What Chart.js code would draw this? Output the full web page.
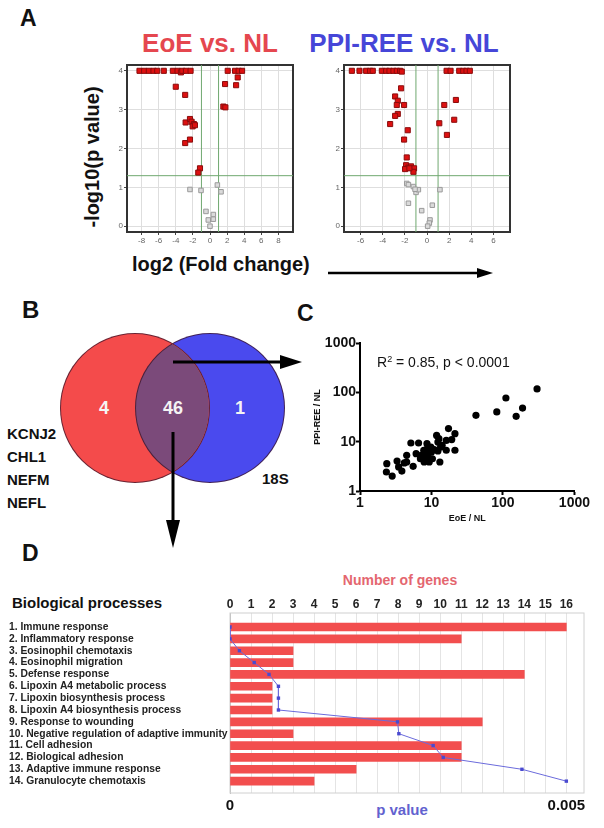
<!DOCTYPE html>
<html>
<head>
<meta charset="utf-8">
<script src="https://cdn.jsdelivr.net/npm/chart.js@4.4.1/dist/chart.umd.min.js"></script>
<style>
html, body { margin: 0; padding: 0; background: #fff; }
#fig { position: relative; width: 604px; height: 828px; overflow: hidden; font-family: "Liberation Sans", Arial, sans-serif; color: #111; }
#fig canvas { position: absolute; }
.t { position: absolute; font-weight: bold; line-height: 1; white-space: nowrap; transform: translateY(-50%); }
.c { transform: translate(-50%, -50%); }
.circ { position: absolute; border-radius: 50%; box-sizing: border-box; border: 1px solid rgba(60,20,40,.75); }
</style>
</head>
<body>
<div id="fig">
  <!-- panel A -->
  <div class="t" style="left:20px;top:18px;font-size:23px">A</div>
  <div class="t c" style="left:210px;top:43px;font-size:26px;color:#e5474f">EoE vs. NL</div>
  <div class="t c" style="left:404px;top:43px;font-size:26px;color:#4646d8">PPI-REE vs. NL</div>
  <div class="t" style="left:92px;top:157px;font-size:20px;transform:translate(-50%,-50%) rotate(-90deg)">-log10(p value)</div>
  <div class="t" style="left:132px;top:264px;font-size:20px">log2 (Fold change)</div>
  <canvas id="cA1" width="200" height="195" style="left:100px;top:55px"></canvas>
  <canvas id="cA2" width="200" height="195" style="left:317px;top:55px"></canvas>

  <!-- panel B -->
  <div class="t" style="left:22px;top:310px;font-size:24px">B</div>
  <div class="circ" style="left:135px;top:333px;width:150px;height:150px;background:#4a4aee"></div>
  <div class="circ" style="left:60px;top:333px;width:150px;height:150px;background:#f44b4b;overflow:hidden">
    <div class="circ" style="left:74px;top:-1px;width:150px;height:150px;background:#7b4a7a"></div>
  </div>
  <div class="t c" style="left:104px;top:408px;font-size:18px;color:#f4f4f4">4</div>
  <div class="t c" style="left:173px;top:408px;font-size:18px;color:#f4f4f4">46</div>
  <div class="t c" style="left:240px;top:408px;font-size:18px;color:#f4f4f4">1</div>
  <div class="t" style="left:7px;top:433px;font-size:15px">KCNJ2</div>
  <div class="t" style="left:7px;top:456px;font-size:15px">CHL1</div>
  <div class="t" style="left:7px;top:479px;font-size:15px">NEFM</div>
  <div class="t" style="left:7px;top:502px;font-size:15px">NEFL</div>
  <div class="t" style="left:262px;top:478px;font-size:15px">18S</div>

  <!-- panel C -->
  <div class="t" style="left:297px;top:313px;font-size:23px">C</div>
  <canvas id="cC" width="290" height="196" style="left:300px;top:333px"></canvas>
  <div class="t" style="left:377px;top:362px;font-size:14px;font-weight:normal">R<sup style="font-size:9px">2</sup> = 0.85, p &lt; 0.0001</div>

  <!-- panel D -->
  <div class="t" style="left:22px;top:553px;font-size:23px">D</div>
  <div class="t" style="left:12px;top:602px;font-size:15px">Biological processes</div>
  <div class="t c" style="left:400px;top:580px;font-size:14px;color:#e4666f">Number of genes</div>
  <div class="t c" style="left:402px;top:809px;font-size:15px;color:#6262cf">p value</div>
  <canvas id="cD" width="604" height="250" style="left:0px;top:570px"></canvas>

  <!-- arrows -->
  <svg width="604" height="828" style="position:absolute;left:0;top:0;pointer-events:none">
    <line x1="328" y1="273" x2="479" y2="273" stroke="#000" stroke-width="2.5"/>
    <polygon points="477,268 493,273 477,278" fill="#000"/>
    <line x1="173" y1="362" x2="282" y2="362" stroke="#000" stroke-width="3"/>
    <polygon points="280,355 302,362 280,369" fill="#000"/>
    <line x1="173" y1="432" x2="173" y2="522" stroke="#000" stroke-width="3"/>
    <polygon points="166,520 173,548 180,520" fill="#000"/>
  </svg>
</div>

<script>
/* ---- data ---- */
const FC_CUT = 1;      // |log2 FC| threshold
const P_CUT = 1.3;     // -log10(0.05)
const VOLC_Y_TICKS = [0, 1, 2, 3, 4];
const EOE_X_TICKS = [-8, -6, -4, -2, 0, 2, 4, 6, 8];
const PPI_X_TICKS = [-6, -4, -2, 0, 2, 4, 6];

// [log2 FC, -log10 p]
const EOE_SIG = [
  [-8.24,4],[-7.7,4],[-7.15,4],[-6.6,4],[-6.17,4],[-5.4,4],[-4.34,4],[-3.79,4],[-3.4,3.96],[-3.24,4],[-2.81,4],[-2.27,4],
  [2.07,4],[2.93,4],[3.35,4],[3.75,4],
  [-4.0,3.59],[-2.9,3.38],[1.76,3.66],[3.24,3.83],[3.05,3.63],[1.56,3.08],[1.8,3.06],
  [-2.85,2.67],[-2.34,2.76],[-2.15,2.69],[-1.88,2.63],[-2.03,2.57],[-1.76,2.6],
  [-2.9,2.14],[-2.34,2.23],[-1.17,1.49],[-1.37,1.38]
];
const EOE_NS = [
  [-2.34,0.945],[-1.05,0.92],[0.86,1.06],[1.29,0.885],[-0.47,0.38],[0.39,0.30],[-0.2,0.16],[0.39,0.18],[0,0]
];
const PPI_SIG = [
  [-6.79,4],[-6.1,4],[-5.5,4],[-5.14,4],[-4.9,4],[-4.08,4],[-3.69,4],[-3.39,4],[-3.03,4],[-2.73,4],[-2.43,4],[-2.28,3.98],
  [1.77,4],[2.13,4],[2.91,4],[3.27,4],[3.57,4],[3.87,4],
  [-2.34,3.55],[-2.88,3.34],[-2.64,3.23],[-2.73,3.12],[-2.07,3.12],[2.61,3.25],[1.56,3.12],
  [-2.64,2.89],[-2.88,2.84],[-3.33,2.63],[1.11,2.65],[2.46,2.74],[-1.74,2.47],[1.8,2.35],[-2.07,2.23],
  [-1.83,1.77],[-1.89,1.57],[-1.68,1.51],[-1.98,1.47],[-1.44,1.54],[-1.17,1.49],[-1.23,1.40],[-1.59,1.49]
];
const PPI_NS = [
  [-1.83,1.1],[-1.68,1.07],[-1.23,1.02],[-0.99,0.87],[-0.78,0.94],[-1.08,0.95],[1.17,0.94],
  [-1.68,0.59],[-0.48,0.40],[0.48,0.54],[0.27,0.16],[0.21,0.08],[0.06,0]
];

// [EoE / NL, PPI-REE / NL]
const RATIO = [
  [2.37,3.58],[2.34,2.43],[2.82,2.01],[3.3,4.06],[3.47,3.07],[3.85,2.54],[4.17,3.7],[4.5,5.28],[4.5,3.87],
  [5.15,9.4],[5.54,3.16],[6.6,9.4],[7.2,5.28],[7.8,6.67],[7.9,3.87],[8.65,9.1],[8.8,7.2],[8.4,5.5],
  [9.0,4.9],[9.3,3.87],[9.8,7.8],[10,6.2],[10.3,4.5],[10.9,6.9],[11.8,13.4],[12.3,9.8],[12.7,11.5],
  [13.4,7.8],[12.3,6.5],[13.1,3.87],[14.1,8.4],[16.1,10.6],[17.3,18.4],[16.1,6.7],[19.2,11.0],[21.3,14.5],
  [21.3,6.7],[6.1,5.7],[7.0,4.5],[8.1,4.7],
  [41.9,34.2],[82,40],[110,76.7],[153,32.6],[188,48],[300,117]
];
const LOG_TICKS = [1, 10, 100, 1000];

const ROW_LABELS = [
  '1. Immune response', '2. Inflammatory response', '3. Eosinophil chemotaxis', '4. Eosinophil migration',
  '5. Defense response', '6. Lipoxin A4 metabolic process', '7. Lipoxin biosynthesis process',
  '8. Lipoxin A4 biosynthesis process', '9. Response to wounding', '10. Negative regulation of adaptive immunity',
  '11. Cell adhesion', '12. Biological adhesion', '13. Adaptive immune response', '14. Granulocyte chemotaxis'
];
const GENES = [16, 11, 3, 3, 14, 2, 2, 2, 12, 3, 11, 11, 6, 4];
const PVALS = [0, 0, 0.00014, 0.00036, 0.00058, 0.00072, 0.00072, 0.00072, 0.00249, 0.00251, 0.00302, 0.00317, 0.00434, 0.005];
const GENE_TICKS = [0,1,2,3,4,5,6,7,8,9,10,11,12,13,14,15,16];
const P_TICKS = [0, 0.005];
const GENE_MAX = 16.84;
const P_MAX = 0.005 * GENE_MAX / 16;

/* ---- setup ---- */
Chart.defaults.font.family = '"Liberation Sans", Arial, sans-serif';
Chart.defaults.animation = false;
Chart.defaults.responsive = false;
Chart.defaults.devicePixelRatio = 1;
Chart.defaults.plugins.legend.display = false;
Chart.defaults.plugins.tooltip.enabled = false;

// box round the plot area
Chart.register({
  id: 'frame',
  beforeDatasetsDraw(chart, args, opts) {
    if (!opts || !opts.color) return;
    const { ctx, chartArea: a } = chart;
    ctx.save();
    ctx.strokeStyle = opts.color;
    ctx.lineWidth = opts.width || 1;
    ctx.strokeRect(a.left, a.top, a.right - a.left, a.bottom - a.top);
    ctx.restore();
  }
});

const fixW = (w) => (s) => { s.width = w; };
const fixH = (h) => (s) => { s.height = h; };
const setTicks = (arr) => (s) => { s.ticks = arr.map(v => ({ value: v })); };
const pts = (arr) => arr.map(([x, y]) => ({ x, y }));

function volcano(id, sig, ns, xr, xticks) {
  const yMin = -0.15, yMax = 4.15;
  const guide = (data) => ({ data, showLine: true, pointRadius: 0, borderColor: '#70a870', borderWidth: 1 });
  const small = { font: { size: 8 }, color: '#666', autoSkip: false, maxRotation: 0, callback: v => String(v) };
  new Chart(document.getElementById(id), {
    type: 'scatter',
    data: {
      datasets: [
        { data: pts(sig), pointStyle: 'rect', pointRadius: 3.6, backgroundColor: '#dd1010', borderColor: '#8a0c0c', borderWidth: 1 },
        { data: pts(ns), pointStyle: 'rect', pointRadius: 3.2, backgroundColor: '#dadada', borderColor: '#9a9a9a', borderWidth: 1 },
        guide([{ x: -FC_CUT, y: yMin }, { x: -FC_CUT, y: yMax }]),
        guide([{ x: FC_CUT, y: yMin }, { x: FC_CUT, y: yMax }]),
        guide([{ x: -xr, y: P_CUT }, { x: xr, y: P_CUT }])
      ]
    },
    options: {
      layout: { padding: { top: 10, right: 7, left: 0, bottom: 0 } },
      scales: {
        x: {
          min: -xr, max: xr, afterFit: fixH(18), afterBuildTicks: setTicks(xticks),
          ticks: { ...small, padding: 1 },
          grid: { color: '#dedede', tickColor: '#444', tickLength: 3 },
          border: { color: '#333', width: 2 }
        },
        y: {
          min: yMin, max: yMax, afterFit: fixW(27), afterBuildTicks: setTicks(VOLC_Y_TICKS),
          ticks: { ...small, padding: 1 },
          grid: { color: '#dedede', tickColor: '#444', tickLength: 3 },
          border: { color: '#333', width: 2 }
        }
      },
      plugins: { frame: { color: '#333', width: 2 } }
    }
  });
}

volcano('cA1', EOE_SIG, EOE_NS, 9.7, EOE_X_TICKS);
volcano('cA2', PPI_SIG, PPI_NS, 7.5, PPI_X_TICKS);

// C: correlation of fold changes
const logAxis = (title, pad) => ({
  type: 'logarithmic', min: 1, max: 1000,
  afterBuildTicks: setTicks(LOG_TICKS),
  ticks: { font: { size: 14, weight: 'bold' }, color: '#111', padding: 0, autoSkip: false, maxRotation: 0, callback: v => String(v) },
  grid: { drawOnChartArea: false, tickColor: '#000', tickLength: 4, tickWidth: 2 },
  border: { color: '#000', width: 2 },
  title: { display: true, text: title, font: { size: 9, weight: 'bold' }, color: '#111', padding: pad }
});
new Chart(document.getElementById('cC'), {
  type: 'scatter',
  data: { datasets: [{ data: pts(RATIO), pointRadius: 3.6, backgroundColor: '#000', borderWidth: 0 }] },
  options: {
    layout: { padding: { top: 10, right: 8, left: 0, bottom: 0 } },
    scales: {
      x: { ...logAxis('EoE / NL', { top: 0, bottom: 5 }), afterFit: fixH(38) },
      y: { ...logAxis('PPI-REE / NL', { top: 12, bottom: 0 }), afterFit: fixW(60) }
    }
  }
});

// D: enriched biological processes
const ROWS = ROW_LABELS.map((_, i) => i);
new Chart(document.getElementById('cD'), {
  type: 'bar',
  data: {
    datasets: [
      { type: 'line', data: PVALS.map((p, i) => ({ x: p, y: i })), xAxisID: 'p', yAxisID: 'y',
        borderColor: '#6b6bdc', borderWidth: 1, pointStyle: 'rect', pointRadius: 2.4,
        pointBackgroundColor: '#4a4ad0', pointBorderWidth: 0, tension: 0 },
      { data: GENES.map((g, i) => ({ x: g, y: i })), xAxisID: 'g', yAxisID: 'y',
        backgroundColor: '#f24e4e', barThickness: 8 }
    ]
  },
  options: {
    indexAxis: 'y',
    layout: { padding: { left: 9, right: 20, top: 0, bottom: 0 } },
    scales: {
      g: {
        type: 'linear', position: 'top', axis: 'x', min: 0, max: GENE_MAX,
        afterFit: fixH(43), afterBuildTicks: setTicks(GENE_TICKS),
        ticks: { font: { size: 12, weight: 'bold' }, color: '#222', padding: 1, autoSkip: false, maxRotation: 0 },
        grid: { color: '#e4e4e4', drawTicks: false },
        border: { display: false }
      },
      p: {
        type: 'linear', position: 'bottom', axis: 'x', min: 0, max: P_MAX,
        afterFit: fixH(27), afterBuildTicks: setTicks(P_TICKS),
        ticks: { font: { size: 15, weight: 'bold' }, color: '#111', padding: 4, autoSkip: false, maxRotation: 0, callback: v => String(v) },
        grid: { display: false, drawTicks: false },
        border: { display: false }
      },
      y: {
        type: 'linear', reverse: true, min: -1.18, max: 14, offset: false,
        afterFit: fixW(221), afterBuildTicks: setTicks(ROWS),
        ticks: { crossAlign: 'far', font: { size: 10.3, weight: 'bold' }, color: '#222', autoSkip: false, callback: v => ROW_LABELS[v] },
        grid: { display: false, offset: false },
        border: { color: '#bbb' }
      }
    },
    plugins: { frame: { color: '#d0d0d0', width: 1 } }
  }
});
</script>
</body>
</html>
